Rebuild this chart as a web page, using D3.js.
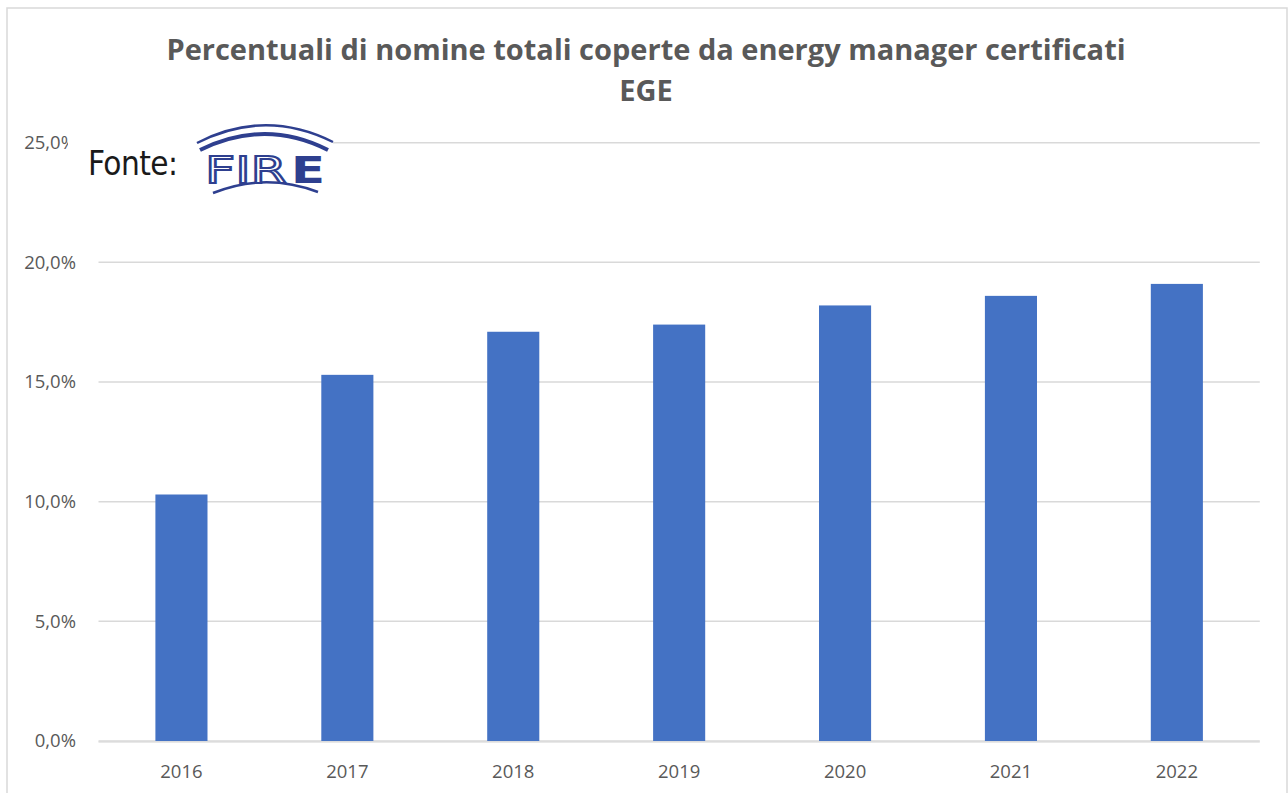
<!DOCTYPE html>
<style>
    body {
        margin: 0;
        background-color: white;
    }
    .title {
        font-family: "Open Sans", sans-serif;
        font-weight: bold;
        fill: #595959;
    }
    .axis text {
        font-family: "Open Sans", sans-serif;
        font-size: 18.5px;
        fill: #595959;
    }
    .grid line {
        stroke: #d9d9d9;
        stroke-width: 1.5px;
    }
</style>

<body>
    <svg width="1288" height="793"></svg>

    <script src="https://d3js.org/d3.v7.min.js"></script>

    <script>
        // data
        var years = ["2016", "2017", "2018", "2019", "2020", "2021", "2022"];
        var shares = [10.3, 15.3, 17.1, 17.4, 18.2, 18.6, 19.1];
        var yTicks = [0, 5, 10, 15, 20, 25];
        var titleLines = ["Percentuali di nomine totali coperte da energy manager certificati", "EGE"];

        var svg = d3.select("svg"),
            width = +svg.attr("width"),
            height = +svg.attr("height");

        // chart frame
        svg.append("rect")
            .attr("x", 7).attr("y", 8)
            .attr("width", 1280).attr("height", 800)
            .attr("fill", "white")
            .attr("stroke", "#d9d9d9")
            .attr("stroke-width", 1.5);

        var x = d3.scaleBand()
            .domain(years)
            .range([98.5, 1259.8])
            .paddingInner(0.686)
            .paddingOuter(0.343);

        var y = d3.scaleLinear()
            .domain([0, 25])
            .range([741, 142.7]);

        // title
        svg.append("text")
            .attr("class", "title")
            .attr("x", 646).attr("y", 60)
            .attr("text-anchor", "middle")
            .attr("font-size", "29px")
            .selectAll("tspan")
            .data(titleLines)
            .enter().append("tspan")
              .attr("x", 646)
              .attr("dy", function(d, i) { return i == 0 ? 0 : 41; })
              .text(function(d) { return d; });

        // gridlines
        svg.append("g")
            .attr("class", "grid")
            .selectAll("line")
            .data(yTicks)
            .enter().append("line")
              .attr("x1", x.range()[0])
              .attr("x2", x.range()[1])
              .attr("y1", function(d) { return y(d); })
              .attr("y2", function(d) { return y(d); });

        // y axis labels
        var yAxis = svg.append("g")
            .attr("class", "axis")
            .attr("transform", "translate(78,0)")
            .call(d3.axisLeft(y)
                .tickValues(yTicks)
                .tickSize(0)
                .tickPadding(2)
                .tickFormat(function(d) { return d.toFixed(1).replace(".", ",") + "%"; }));
        yAxis.select(".domain").remove();

        // bars
        svg.append("g")
            .selectAll("rect")
            .data(shares)
            .enter().append("rect")
              .attr("x", function(d, i) { return x(years[i]); })
              .attr("y", function(d) { return y(d); })
              .attr("width", x.bandwidth())
              .attr("height", function(d) { return y(0) - y(d); })
              .attr("fill", "#4472c4");

        // baseline drawn over the bar feet
        svg.append("line")
            .attr("x1", x.range()[0]).attr("x2", x.range()[1])
            .attr("y1", y(0) + 1).attr("y2", y(0) + 1)
            .attr("stroke", "#d9d9d9")
            .attr("stroke-opacity", 0.6)
            .attr("stroke-width", 2);

        // x axis labels
        var xAxis = svg.append("g")
            .attr("class", "axis")
            .attr("transform", "translate(0," + y(0) + ")")
            .call(d3.axisBottom(x).tickSize(0).tickPadding(24));
        xAxis.select(".domain").remove();

        // source logo pasted on top of the chart
        var logo = svg.append("g");
        logo.append("rect")
            .attr("x", 68).attr("y", 118)
            .attr("width", 265).attr("height", 82)
            .attr("fill", "white");
        logo.append("text")
            .attr("x", 88).attr("y", 175)
            .attr("font-family", "'DejaVu Sans Condensed', 'Liberation Sans Narrow', sans-serif")
            .attr("font-size", "33px")
            .attr("textLength", 90)
            .attr("fill", "#1a1a1a")
            .text("Fonte:");
        logo.append("path")
            .attr("d", "M197,143 Q265,108 333,142")
            .attr("fill", "none").attr("stroke", "#2e3f8f").attr("stroke-width", 2.5);
        logo.append("path")
            .attr("d", "M200,150 Q265,118 328,150")
            .attr("fill", "none").attr("stroke", "#2e3f8f").attr("stroke-width", 4);
        logo.append("path")
            .attr("d", "M213,193 Q265,172 318,192")
            .attr("fill", "none").attr("stroke", "#2e3f8f").attr("stroke-width", 2.5);
        logo.append("text")
            .attr("x", 205).attr("y", 183)
            .attr("font-family", "'DejaVu Sans', sans-serif")
            .attr("font-size", "38px")
            .attr("textLength", 82)
            .attr("lengthAdjust", "spacingAndGlyphs")
            .attr("fill", "white")
            .attr("stroke", "#2e3f8f")
            .attr("stroke-width", 2)
            .text("FIR");
        logo.append("text")
            .attr("x", 291).attr("y", 183)
            .attr("font-family", "'DejaVu Sans', sans-serif")
            .attr("font-weight", "bold")
            .attr("font-size", "38px")
            .attr("textLength", 34)
            .attr("lengthAdjust", "spacingAndGlyphs")
            .attr("fill", "#2e3f8f")
            .text("E");
    </script>
</body>
